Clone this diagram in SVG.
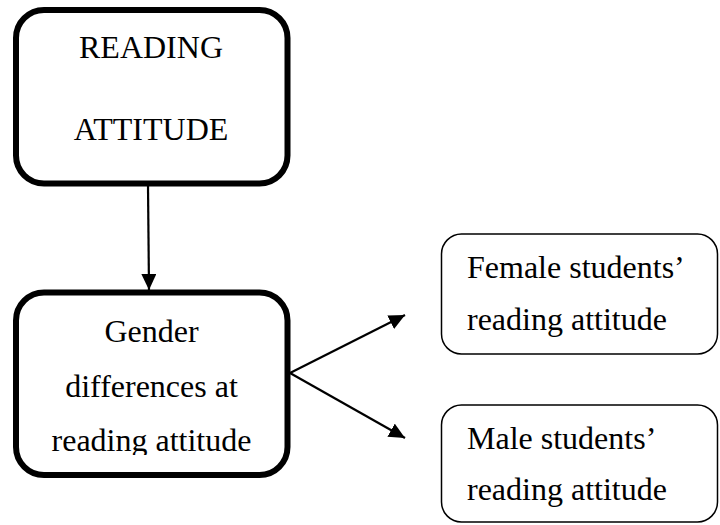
<svg xmlns="http://www.w3.org/2000/svg" width="720" height="525" viewBox="0 0 720 525">
  <style>
    .t { font-family: "Liberation Serif", "Times New Roman", serif; font-size: 32px; fill: #000; }
    .c { text-anchor: middle; }
    .bold-box { fill: #fff; stroke: #000; stroke-width: 6; }
    .thin-box { fill: #fff; stroke: #000; stroke-width: 1.5; }
    .conn { stroke: #000; stroke-width: 2.2; fill: none; }
  </style>
  <defs>
    <marker id="ah" viewBox="0 0 16 15" refX="16" refY="7.5" markerWidth="16" markerHeight="15" markerUnits="userSpaceOnUse" orient="auto">
      <path d="M0,0 L16,7.5 L0,15 z" fill="#000"/>
    </marker>
    <clipPath id="clipG">
      <rect x="0" y="290" width="300" height="165"/>
    </clipPath>
  </defs>
  <rect width="720" height="525" fill="#fff"/>

  <g id="reading-attitude">
    <rect class="bold-box" x="16" y="10" width="271.5" height="173.5" rx="28" ry="28"/>
    <text class="t c" x="151" y="58">READING</text>
    <text class="t c" x="151" y="140">ATTITUDE</text>
  </g>

  <g id="gender-differences">
    <rect class="bold-box" x="16" y="292.5" width="271.5" height="182.5" rx="28" ry="28"/>
    <text class="t c" x="151.5" y="342">Gender</text>
    <text class="t c" x="151.5" y="397">differences at</text>
    <text class="t c" x="151.5" y="451" clip-path="url(#clipG)">reading attitude</text>
  </g>

  <g id="female">
    <rect class="thin-box" x="441.5" y="234" width="276" height="120" rx="20" ry="20"/>
    <text class="t" x="467" y="278">Female students’</text>
    <text class="t" x="467" y="330">reading attitude</text>
  </g>

  <g id="male">
    <rect class="thin-box" x="441.5" y="405" width="276" height="117" rx="20" ry="20"/>
    <text class="t" x="467" y="449">Male students’</text>
    <text class="t" x="467" y="500">reading attitude</text>
  </g>

  <g id="connectors">
    <line class="conn" x1="148" y1="186" x2="149" y2="290" marker-end="url(#ah)"/>
    <line class="conn" x1="290" y1="373" x2="405" y2="315" marker-end="url(#ah)"/>
    <line class="conn" x1="290" y1="373" x2="405" y2="438" marker-end="url(#ah)"/>
  </g>
</svg>
